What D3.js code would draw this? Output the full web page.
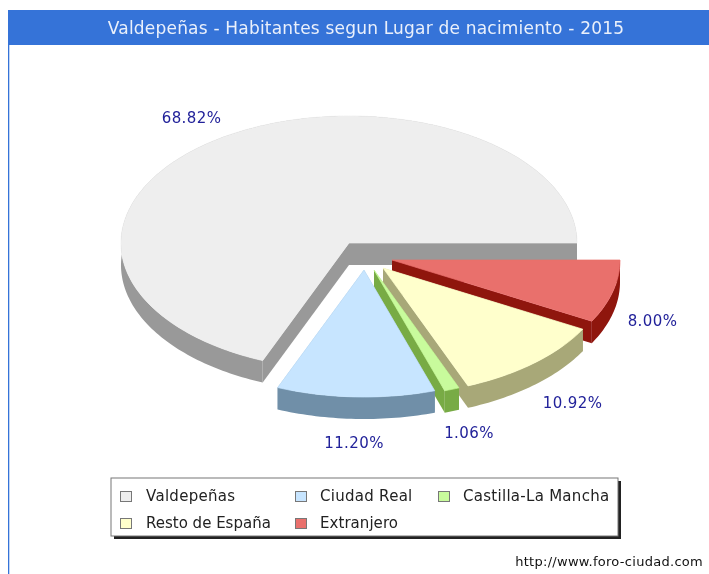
<!DOCTYPE html>
<html><head><meta charset="utf-8">
<script src="https://cdn.jsdelivr.net/npm/d3@7"></script>
<style>html,body{margin:0;padding:0;background:#fff;overflow:hidden}svg{display:block}</style>
</head><body><svg id="c" width="709" height="574"></svg>
<script>
const titleText = "Valdepeñas - Habitantes segun Lugar de nacimiento - 2015";
const categories = ["Valdepeñas","Ciudad Real","Castilla-La Mancha","Resto de España","Extranjero"];
const shares = [68.82,11.20,1.06,10.92,8.00];
const shareLabels = ["68.82%","11.20%","1.06%","10.92%","8.00%"];
const creditText = "http://www.foro-ciudad.com";
const topColors = ["#eeeeee","#c7e5ff","#c8fb9c","#ffffcc","#e9706c"];
const wallColors = ["#999999","#6f8fa8","#78ab45","#a8a878","#8f1410"];

// layout
const W=709,H=574, cx=349, cy=243, rx=228, ry=127, depth=22;
const offsets=[[0,0],[15,27],[25,27],[34,25],[43,17]];
const labelPos=[[191.5,118],[354,443],[469,433],[572.5,403],[652.5,321]];
const drawOrder=[0,4,3,2,1];

const svg=d3.select("#c");
const defs=svg.append("defs");
defs.append("filter").attr("id","soft").attr("x","-5%").attr("y","-5%").attr("width","110%").attr("height","110%")
  .append("feGaussianBlur").attr("stdDeviation",0.45);
const root=svg.append("g").attr("filter","url(#soft)");
root.append("rect").attr("width",W).attr("height",H).attr("fill","#fff");

// frame and title
root.append("rect").attr("x",8).attr("y",10).attr("width",W-8).attr("height",35).attr("fill","#3573d8");
root.append("rect").attr("x",8).attr("y",10).attr("width",1.3).attr("height",H-10).attr("fill","#3573d8");
root.append("text").text(titleText).attr("x",366).attr("y",34).attr("text-anchor","middle")
  .attr("font-family","DejaVu Sans").attr("font-size",17).attr("letter-spacing",0.2).attr("fill","#eaf0fb");

// counter-clockwise pie angles starting on the +x axis
const pie=d3.pie().sort(null).value(d=>d).startAngle(0).endAngle(2*Math.PI)(shares);
const sx=d3.scaleLinear().domain([-1,1]).range([-rx,rx]);
const sy=d3.scaleLinear().domain([-1,1]).range([ry,-ry]);
const line=d3.line();
function arcPts(a0,a1,ox,oy,dy){
  const n=Math.max(4,Math.ceil((a1-a0)/0.02)),pts=[];
  for(let i=0;i<=n;i++){const a=a0+(a1-a0)*i/n;
    pts.push([cx+ox+sx(Math.cos(a)),cy+oy+sy(Math.sin(a))+dy]);}
  return pts;
}
const pieG=root.append("g");
drawOrder.forEach(i=>{
  const s=pie[i],[ox,oy]=offsets[i],g=pieG.append("g");
  const arc=arcPts(s.startAngle,s.endAngle,ox,oy,0);
  const arcLow=arcPts(s.startAngle,s.endAngle,ox,oy,depth);
  const c=[cx+ox,cy+oy], cLow=[c[0],c[1]+depth];
  const first=arc[0], last=arc[arc.length-1];
  const walls=[
    [c,first,arcLow[0],cLow],
    [c,last,arcLow[arcLow.length-1],cLow],
    arc.concat(arcLow.slice().reverse())
  ];
  walls.forEach(w=>g.append("path").attr("d",line(w)+"Z").attr("fill",wallColors[i]));
  g.append("path").attr("d",line([c].concat(arc))+"Z").attr("fill",topColors[i])
    .attr("stroke",topColors[i]).attr("stroke-width",0.7);
});

// percentage labels
root.append("g").selectAll("text").data(shareLabels).join("text").text(d=>d)
  .attr("x",(d,i)=>labelPos[i][0]).attr("y",(d,i)=>labelPos[i][1]+5)
  .attr("text-anchor","middle").attr("font-family","DejaVu Sans").attr("font-size",15)
  .attr("letter-spacing",0.4).attr("fill","#22229a");

// legend
const lg=root.append("g");
lg.append("rect").attr("x",114).attr("y",481).attr("width",507).attr("height",58).attr("fill","#222");
lg.append("rect").attr("x",111).attr("y",478).attr("width",507).attr("height",58).attr("fill","#fff").attr("stroke","#777").attr("stroke-width",1);
const swatchX=[120,295,438,120,295], textX=[146,320,463,146,320], rowY=[497,497,497,524,524];
const textSpacing=[0.3,0.28,0.28,0,0.05];
categories.forEach((c,i)=>{
  lg.append("rect").attr("x",swatchX[i]+.5).attr("y",rowY[i]-5.5).attr("width",11).attr("height",10)
    .attr("fill",topColors[i]).attr("stroke","#777").attr("stroke-width",1);
  lg.append("text").text(c).attr("x",textX[i]).attr("y",rowY[i]+4)
    .attr("font-family","DejaVu Sans").attr("font-size",15).attr("letter-spacing",textSpacing[i]).attr("fill","#222");
});
root.append("text").text(creditText).attr("x",703).attr("y",566).attr("text-anchor","end")
  .attr("font-family","DejaVu Sans").attr("font-size",13).attr("letter-spacing",0.28).attr("fill","#111");
</script></body></html>
